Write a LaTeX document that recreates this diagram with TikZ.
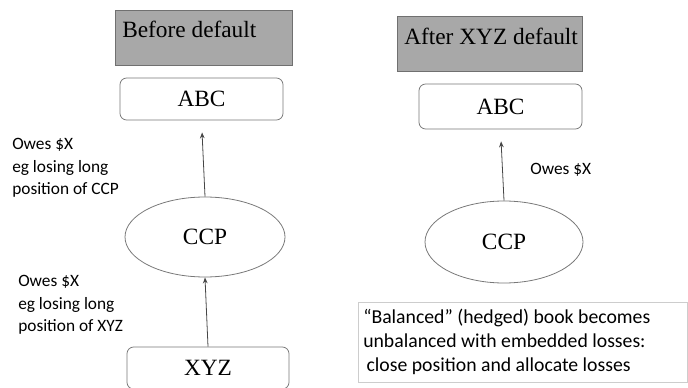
\documentclass[tikz,border=0pt]{standalone}
\usepackage{fontspec}
\setmainfont{Liberation Serif}
\newfontfamily\notefont{Carlito}
\usetikzlibrary{shapes.geometric,arrows.meta}

\begin{document}
\begin{tikzpicture}[x=0.75pt,y=0.75pt,yscale=-1,xscale=1,
  headbox/.style={draw={rgb,255:red,112;green,112;blue,112},fill={rgb,255:red,168;green,168;blue,168},line width=0.6pt,inner sep=0pt},
  partybox/.style={draw={rgb,255:red,120;green,120;blue,120},rounded corners=5pt,line width=0.6pt,minimum width=122.25pt,inner sep=0pt,font=\fontsize{17.5}{20}\selectfont},
  ccpshape/.style={ellipse,draw={rgb,255:red,120;green,120;blue,120},line width=0.6pt,inner sep=0pt,font=\fontsize{17.5}{20}\selectfont},
  seriftext/.style={inner sep=0pt,font=\fontsize{17.5}{20}\selectfont},
  owestext/.style={inner sep=0pt,align=left,font=\notefont\fontsize{13}{17}\selectfont},
  flow/.style={draw={rgb,255:red,70;green,70;blue,70},line width=0.6pt,-{Stealth[length=4.5pt,width=3.5pt]}}]
\useasboundingbox (0,0) rectangle (688,388);

% Before default
\node [headbox,minimum width=132.75pt,minimum height=41.25pt] (beforebox) at (203.5,37.5) {};
\node [seriftext,anchor=base west] (beforetext) at (122,38) {Before default};
% After XYZ default
\node [headbox,minimum width=138.75pt,minimum height=41.25pt] (afterbox) at (489.5,43.5) {};
\node [seriftext,anchor=base west] (aftertext) at (404,45) {After XYZ default};

% Before: ABC, CCP, XYZ
\node [partybox,minimum height=31.5pt] (abcL) at (201.5,99) {ABC};
\node [ccpshape,minimum width=120pt,minimum height=60pt] (ccpL) at (205,237) {CCP};
\node [partybox,minimum width=121.5pt,minimum height=31.5pt] (xyz) at (208,368) {XYZ};
% After: ABC, CCP
\node [partybox,minimum height=33.75pt] (abcR) at (500.5,106.5) {ABC};
\node [ccpshape,minimum width=118.5pt,minimum height=61.5pt] (ccpR) at (504,242) {CCP};

% Connections
\draw [flow,shorten >=9pt] (ccpL.north) -- (abcL.south);
\draw [flow] (xyz.north) -- (ccpL.south);
\draw [flow,shorten >=9pt] (ccpR.north) -- (abcR.south);

% Text Nodes
\node [owestext,anchor=north west] (owesccp) at (12,138) {Owes \$X\\eg losing long\\position of CCP};
\node [owestext,anchor=north west] (owesxyz) at (18,275) {Owes \$X\\eg losing long\\position of XYZ};
\node [owestext,anchor=north west] (owesabc) at (530,163) {Owes \$X};

% Note
\node [draw={rgb,255:red,205;green,205;blue,205},line width=0.6pt,minimum width=247pt,minimum height=60pt,inner sep=0pt] (notebox) at (523,342) {};
\node [owestext,anchor=north west,font=\notefont\fontsize{14.8}{18}\selectfont] (notetext) at (363,309)
  {“Balanced” (hedged) book becomes\\unbalanced with embedded losses:\\\hspace{2.5pt}close position and allocate losses};

\end{tikzpicture}
\end{document}
